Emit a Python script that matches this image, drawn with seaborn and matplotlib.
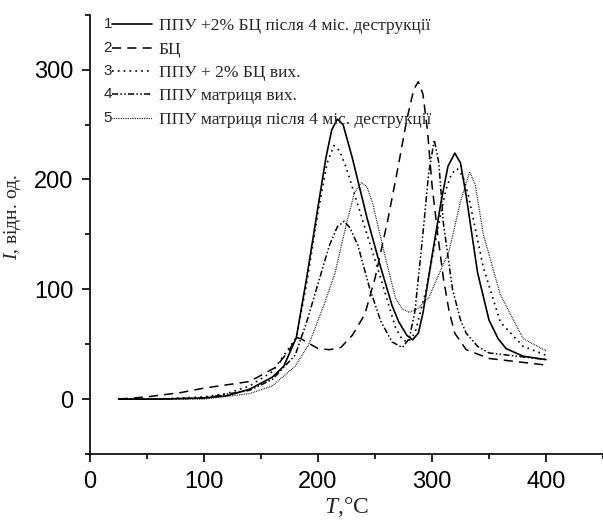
import numpy as np
import pandas as pd
import matplotlib
matplotlib.use('Agg')
import matplotlib.pyplot as plt
import seaborn as sns
from matplotlib.ticker import MultipleLocator

# values
t1 = [25, 60, 100, 120, 140, 160, 170, 181, 190, 200, 207, 212, 217, 222, 230, 243, 255, 265, 271, 278, 283, 288, 292, 300, 308, 314, 320, 325, 330, 340, 350, 358, 365, 380, 400]
i1 = [0, 0, 1, 3, 9, 20, 30, 56, 110, 175, 220, 245, 255, 250, 220, 165, 120, 85, 70, 58, 54, 60, 78, 130, 180, 212, 224, 215, 185, 115, 72, 55, 46, 39, 36]

t2 = [25, 50, 80, 100, 140, 163, 175, 181, 185, 190, 200, 210, 220, 230, 241, 250, 261, 270, 278, 284, 288, 292, 296, 300, 305, 310, 315, 320, 330, 350, 400]
i2 = [0, 2, 6, 10, 16, 29, 45, 56, 55, 52, 46, 45, 47, 58, 77, 110, 162, 210, 255, 282, 289, 278, 245, 195, 150, 110, 80, 60, 45, 37, 31]

t3 = [25, 60, 100, 120, 140, 160, 181, 190, 200, 208, 214, 219, 225, 240, 255, 268, 274, 279, 285, 295, 305, 312, 317, 322, 327, 332, 345, 360, 380, 400]
i3 = [0, 0, 2, 5, 12, 25, 56, 105, 170, 215, 231, 226, 210, 160, 110, 65, 54, 52, 60, 100, 155, 190, 205, 210, 203, 185, 120, 70, 48, 40]

t4 = [25, 60, 100, 140, 160, 180, 190, 200, 210, 217, 223, 228, 235, 245, 255, 265, 274, 280, 285, 292, 297, 302, 306, 310, 318, 325, 330, 340, 350, 400]
i4 = [0, 0, 1, 8, 18, 40, 70, 105, 140, 157, 162, 156, 140, 102, 71, 52, 47, 55, 80, 150, 205, 236, 215, 160, 100, 72, 60, 48, 42, 36]

t5 = [25, 60, 100, 140, 160, 180, 192, 205, 215, 225, 232, 238, 243, 248, 260, 268, 274, 280, 287, 297, 315, 325, 333, 338, 345, 360, 380, 400]
i5 = [0, 0, 0, 5, 12, 30, 50, 85, 115, 160, 188, 197, 193, 178, 125, 92, 82, 79, 82, 92, 135, 180, 207, 195, 150, 95, 55, 44]

labels = ['ППУ +2% БЦ після 4 міс. деструкції', 'БЦ', 'ППУ + 2% БЦ вих.',
          'ППУ матриця вих.', 'ППУ матриця після 4 міс. деструкції']
numbers = ['1', '2', '3', '4', '5']

sns.set_theme(style='ticks')
plt.rcParams['font.family'] = ['Liberation Sans', 'DejaVu Sans']
plt.rcParams['mathtext.fontset'] = 'custom'
plt.rcParams['mathtext.it'] = 'Liberation Serif:italic'
plt.rcParams['mathtext.rm'] = 'Liberation Serif'

styles = [
    dict(linestyle='-', linewidth=1.2),
    dict(linestyle=(0, (6, 4)), linewidth=1.1),
    dict(linestyle=(0, (1, 2.5)), linewidth=1.2),
    dict(linestyle=(0, (4, 1.5, 1, 1.5, 1, 1.5)), linewidth=1.1),
    dict(linestyle=(0, (0.6, 0.8)), linewidth=0.9),
]

fig = plt.figure(figsize=(6.03, 5.23), dpi=100)
ax = fig.add_axes([90/603, 1-454/523, 513/603, (454-14.75)/523])

series = [(t1, i1), (t2, i2), (t3, i3), (t4, i4), (t5, i5)]
for (t, v), st, lab in zip(series, styles, labels):
    d = pd.DataFrame({'T': t, 'I': v})
    sns.lineplot(x='T', y='I', data=d, ax=ax, color='black', sort=False,
                 errorbar=None, label=lab, **st)

ax.set_xlim(0, 450)
ax.set_ylim(-50, 350)
ax.xaxis.set_major_locator(MultipleLocator(100))
ax.xaxis.set_minor_locator(MultipleLocator(50))
ax.yaxis.set_major_locator(MultipleLocator(100))
ax.yaxis.set_minor_locator(MultipleLocator(50))
ax.tick_params(which='major', direction='out', length=6, width=1.2, pad=6, labelsize=17, colors='black')
ax.tick_params(which='minor', direction='out', length=3.5, width=1.2, colors='black')
for s in ['top', 'right']:
    ax.spines[s].set_visible(False)
for s in ['left', 'bottom']:
    ax.spines[s].set_linewidth(1.2)
    ax.spines[s].set_color('black')

ax.set_xlabel(r'$\mathit{T}$,°C', fontsize=17, family='Liberation Serif', labelpad=2)
ax.set_ylabel(r'$\mathit{I}$, відн. од.', fontsize=14, family='Liberation Serif')
ax.yaxis.set_label_coords(-0.13, 0.54)

leg = ax.legend(loc='upper left', bbox_to_anchor=(112/603, 1-18/523), bbox_transform=fig.transFigure,
                frameon=False, borderpad=0, borderaxespad=0, handlelength=2.3, handletextpad=0.4,
                labelspacing=0.42, prop={'family': 'Liberation Serif', 'size': 12.5})

fig.canvas.draw()
r = fig.canvas.get_renderer()
for ln, n in zip(leg.get_lines(), numbers):
    bb = ln.get_window_extent(r)
    fig.text(bb.x0 / fig.bbox.width, (bb.y0 + bb.y1) / 2 / fig.bbox.height, n,
             ha='right', va='center', fontsize=11, family='Liberation Sans')

plt.savefig('out.png', dpi=100)
